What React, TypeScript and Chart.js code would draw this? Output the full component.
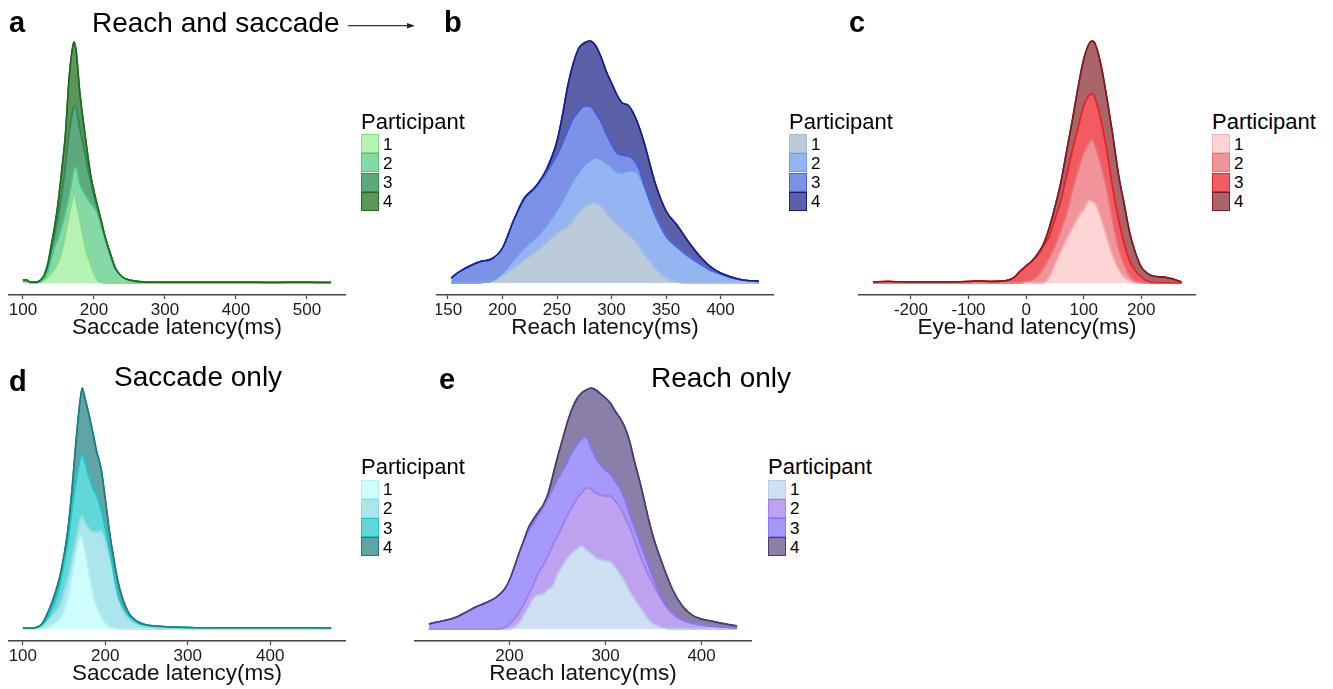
import React, { useEffect, useRef } from "react";
import { Chart, registerables } from "chart.js";

Chart.register(...registerables);

const FONT = '"Liberation Sans", Arial, Helvetica, sans-serif';

// ---------- Panel a: Reach and saccade, saccade latency ----------
const aX = [100, 105, 110, 120, 125, 130, 135, 140, 145, 150, 155, 160, 165, 170, 172, 175, 180, 185, 190, 195, 200, 205, 210, 215, 220, 225, 230, 240, 250, 270, 300, 350, 400, 450, 500, 534];
const aP1 = [1, 1, 0.3, 0.3, 1, 3, 6, 10, 15, 22, 33, 50, 68, 85, 90, 82, 65, 47, 30, 20, 10, 3, 1, 0, 0, 0, 0, 0, 0, 0, 0, 0, 0, 0, 0, 0];
const aP2 = [1, 1, 0.3, 0.3, 1, 2, 6, 15, 23, 24, 25, 22, 20, 23, 24, 34, 35, 45, 56, 60, 66, 67, 57, 46, 34, 23, 14, 6, 3, 1, 0.6, 0.6, 0.6, 0.5, 0.6, 0.4];
const aP3 = [1, 1, 0.4, 0.4, 1, 2, 5, 8, 12, 22, 32, 46, 62, 64, 63, 59, 55, 46, 34, 23, 12, 5, 4, 2, 2, 2, 1, 0, 0, 0, 0.2, 0.2, 0.2, 0.1, 0.2, 0.1];
const aP4 = [0, 0, 0, 0, 0, 1, 2, 5, 8, 15, 25, 32, 55, 64, 64, 57, 37, 24, 15, 7, 4, 2, 1, 0, 0, 0, 0, 0, 0, 0, 0, 0, 0, 0, 0, 0];
const aTicks = [100, 200, 300, 400, 500];

// ---------- Panel b: Reach and saccade, reach latency ----------
const bX = [153, 160, 170, 180, 190, 200, 210, 220, 230, 240, 250, 255, 260, 265, 270, 275, 280, 285, 290, 295, 300, 305, 310, 315, 320, 325, 330, 340, 350, 360, 370, 380, 390, 400, 410, 420, 435];
const bP1 = [0, 0, 0, 0.5, 2, 7, 15, 23, 31, 40, 50, 53, 57, 63, 70, 76, 79, 80, 77, 71, 64, 58, 53, 49, 44, 37, 29, 15, 5, 1, 0, 0, 0, 0, 0, 0, 0];
const bP2 = [0, 0, 0, 0, 0, 3, 8, 12, 14, 17, 23, 29, 36, 40, 40, 42, 43, 45, 47, 49, 52, 53, 57, 63, 68, 71, 67, 53, 42, 35, 27, 20, 13, 9, 5, 3, 1];
const bP3 = [5, 11, 17, 21, 22, 25, 39, 49, 50, 53, 55, 58, 60, 62, 62, 59, 55, 46, 38, 30, 23, 19, 18, 15, 12, 7, 2, 0, 0, 0, 0, 0, 0, 0, 0, 0, 0];
const bP4 = [0, 0, 0, 0, 0, 0, 0, 1, 1, 3, 14, 28, 45, 55, 63, 63, 65, 67, 65, 62, 61, 58, 52, 51, 46, 42, 42, 32, 25, 22, 15, 8, 4, 1, 1, 0, 1];
const bTicks = [150, 200, 250, 300, 350, 400];

// ---------- Panel c: eye-hand latency ----------
const cX = [-266, -240, -200, -150, -100, -80, -60, -40, -30, -20, -10, 0, 10, 20, 30, 40, 50, 60, 70, 80, 90, 100, 110, 115, 120, 130, 140, 150, 160, 170, 180, 190, 200, 210, 220, 240, 255, 270];
const cP1 = [0, 0, 0, 0, 0, 0, 0, 0, 0, 0, 0, 0, 0, 0, 0, 5, 18, 31, 43, 54, 65, 73, 82, 81, 79, 64, 45, 27, 14, 6, 2, 0, 0, 0, 0, 0, 0, 0];
const cP2 = [0, 0, 0, 0, 0, 0, 0, 0, 0, 0, 0, 2, 3, 7, 15, 20, 19, 21, 26, 38, 48, 57, 59, 62, 58, 54, 49, 37, 22, 13, 5, 2, 0.5, 0, 0, 0, 0, 0];
const cP3 = [1, 1.5, 1, 1, 1.5, 2, 1.5, 2, 3, 6, 12, 15, 19, 21, 22, 22, 27, 30, 38, 40, 42, 47, 47, 46, 47, 45, 39, 32, 29, 21, 15, 10, 5.5, 2, 0.5, 0.3, 0.2, 0];
const cP4 = [0, 0, 0, 0, 0, 0, 0, 0, 0, 0, 0, 0, 0, 1, 2, 8, 12, 18, 24, 30, 40, 47, 52, 53, 55, 55, 53, 54, 45, 40, 28, 18, 10, 8, 6.5, 5.7, 3.8, 1];
const cTicks = [-200, -100, 0, 100, 200];

// ---------- Panel d: Saccade only ----------
const dX = [100, 110, 118, 124, 130, 135, 140, 145, 150, 155, 160, 165, 170, 172, 175, 180, 185, 190, 195, 200, 205, 210, 215, 220, 225, 230, 240, 250, 260, 280, 300, 350, 400, 450, 474];
const dP1 = [0, 0, 0.5, 1, 2, 4, 7, 11, 19, 34, 57, 80, 93, 91, 80, 58, 35, 22, 12, 6, 2, 1, 0, 0, 0, 0, 0, 0, 0, 0, 0, 0, 0, 0, 0];
const dP2 = [0.5, 0.5, 0.5, 2, 7, 9, 11, 13, 19, 19, 16, 13, 18, 22, 28, 43, 62, 75, 86, 82, 71, 54, 34, 21, 14, 9, 4, 2, 1, 0.5, 0.3, 0.2, 0.2, 0.2, 0.2];
const dP3 = [0.5, 0.5, 1, 2, 2, 7, 12, 21, 28, 35, 50, 57, 61, 61, 60, 52, 44, 36, 21, 13, 7, 2, 1, 3, 3, 3, 2, 2, 2, 1.5, 1.2, 1, 1.1, 1, 0.8];
const dP4 = [0, 0, 0, 1, 5, 6, 8, 8, 8, 14, 20, 43, 60, 67, 64, 62, 55, 43, 41, 29, 18, 15, 14, 9, 5, 2, 1, 0, 0, 0, 0, 0, 0, 0, 0];
const dTicks = [100, 200, 300, 400];

// ---------- Panel e: Reach only ----------
const eX = [116, 125, 135, 145, 155, 165, 175, 185, 195, 200, 205, 210, 215, 220, 225, 230, 235, 240, 245, 250, 255, 260, 265, 270, 275, 280, 285, 290, 295, 300, 305, 310, 315, 320, 325, 330, 335, 340, 345, 350, 360, 370, 380, 390, 400, 410, 420, 437];
const eP1 = [0, 0, 0, 0, 0, 0, 0, 0, 0, 0, 2, 6, 14, 22, 31, 34, 35, 39, 43, 55, 63, 70, 76, 80, 83, 79, 75, 71, 69, 68, 67, 62, 55, 47, 38, 30, 23, 16, 9, 5, 1, 0, 0, 0, 0, 0, 0, 0];
const eP2 = [0, 0, 0, 0, 0, 0, 0, 0, 1.5, 5, 8, 11, 11, 13, 14, 22, 29, 34, 41, 38, 40, 43, 46, 50, 53, 62, 65, 65, 65, 65, 66, 66, 67, 65, 64, 59, 53, 48, 44, 39, 26, 15, 9, 6, 4, 3, 2, 1];
const eP3 = [5, 7, 9, 12, 17, 22, 26, 31, 38.5, 44, 52, 59, 63, 64, 61, 58, 58, 58, 56, 57, 55, 54, 55, 54, 54, 51, 41, 35, 30, 26, 22, 20, 19, 18, 13, 13, 13, 12, 10, 6, 1, 1, 0, 0, 0, 0, 0, 0];
const eP4 = [0, 0, 0, 0, 0, 0, 0, 0, 0, 0, 0, 0, 1, 3, 4, 3, 2, 4, 13, 22, 31, 39, 43, 46, 46, 47, 60, 68, 71, 72, 71, 70, 70, 72, 73, 66, 61, 54, 46, 41, 35, 23, 14, 8, 6, 5, 4, 2];
const eTicks = [200, 300, 400];

const participants = ["1", "2", "3", "4"];

const greenFill = ["#b6f2b2", "#84d9a6", "#5ea97c", "#5c9659"];
const greenLine = ["#86dc86", "#4cc482", "#2e8b57", "#1d6b1d"];
const blueFill = ["#bccbd9", "#95b5f2", "#7b92e6", "#5c60a8"];
const blueLine = ["#a6bde0", "#6c9cf0", "#3f5fe0", "#151f8c"];
const redFill = ["#fdd5d7", "#f09499", "#f05c60", "#a9656a"];
const redLine = ["#f6b5b8", "#e4737a", "#ee2222", "#7b1b22"];
const tealFill = ["#cefdfc", "#abe6ec", "#60d7d8", "#60a5a6"];
const tealLine = ["#b0f2f2", "#8edbe5", "#1cc6c6", "#1d7c7e"];
const purpleFill = ["#cee0f1", "#bfa2ef", "#a59afb", "#8b7ea9"];
const purpleLine = ["#b6cdeb", "#a27ee8", "#8474f7", "#4b3c70"];

const topLines = {
  id: "topLines",
  afterDatasetsDraw(chart: any) {
    const ctx = chart.ctx;
    for (let i = 0; i < chart.data.datasets.length; i++) {
      const meta = chart.getDatasetMeta(i);
      if (meta && meta.dataset) meta.dataset.draw(ctx, chart.chartArea);
    }
  },
};

type PanelProps = {
  left: number;
  top: number;
  xs: number[];
  series: number[][];
  fills: string[];
  lines: string[];
  min: number;
  max: number;
  ticks: number[];
  title: string;
};

function DensityPanel(p: PanelProps) {
  const ref = useRef<HTMLCanvasElement | null>(null);
  useEffect(() => {
    if (!ref.current) return;
    const chart = new Chart(ref.current, {
      type: "line",
      data: {
        datasets: p.series.map((vals, i) => ({
          label: participants[i],
          data: p.xs.map((x, j) => ({ x, y: vals[j] })),
          backgroundColor: p.fills[i],
          borderColor: p.lines[i],
          borderWidth: 1.5,
          pointRadius: 0,
          pointHoverRadius: 0,
          fill: i === 0 ? "origin" : "-1",
          cubicInterpolationMode: "monotone",
        })),
      },
      options: {
        animation: false,
        responsive: false,
        events: [],
        layout: { padding: 0 },
        plugins: { legend: { display: false }, tooltip: { enabled: false } },
        scales: {
          x: {
            type: "linear",
            min: p.min,
            max: p.max,
            grid: {
              display: true,
              drawOnChartArea: false,
              drawTicks: true,
              tickLength: 4,
              tickColor: "#444",
              tickWidth: 1.2,
            },
            border: { display: true, color: "#444", width: 1.4 },
            ticks: {
              font: { family: FONT, size: 17 },
              color: "#1a1a1a",
              padding: 1,
              maxRotation: 0,
              autoSkip: false,
              callback: (v: any) => String(v),
            },
            title: {
              display: true,
              text: p.title,
              font: { family: FONT, size: 22.5 },
              color: "#111",
              padding: { top: 0, bottom: 0 },
            },
            afterBuildTicks: (s: any) => {
              s.ticks = p.ticks.map((v) => ({ value: v }));
            },
            afterFit: (s: any) => {
              s.height = 46;
              s.paddingLeft = 0;
              s.paddingRight = 0;
            },
          } as any,
          y: { display: false, stacked: true, min: -12, max: 253 },
        },
      },
      plugins: [topLines],
    } as any);
    return () => chart.destroy();
  }, []);
  return (
    <canvas
      ref={ref}
      width={338}
      height={311}
      style={{ position: "absolute", left: p.left, top: p.top, width: 338, height: 311 }}
    />
  );
}

function Txt(props: { x: number; baseline: number; size: number; bold?: boolean; children: React.ReactNode }) {
  return (
    <div
      style={{
        position: "absolute",
        left: props.x,
        top: props.baseline - 0.8465 * props.size,
        fontSize: props.size,
        lineHeight: `${props.size}px`,
        fontWeight: props.bold ? 700 : 400,
        fontFamily: FONT,
        color: "#000",
        whiteSpace: "nowrap",
      }}
    >
      {props.children}
    </div>
  );
}

function Legend(props: { x: number; titleBaseline: number; swTop: number; fills: string[]; lines: string[] }) {
  const h = 19.1;
  return (
    <>
      <Txt x={props.x} baseline={props.titleBaseline} size={22}>
        Participant
      </Txt>
      {participants.map((lab, i) => (
        <React.Fragment key={lab}>
          <div
            style={{
              position: "absolute",
              left: props.x,
              top: props.swTop + i * h,
              width: 18,
              height: h,
              boxSizing: "border-box",
              background: props.fills[i],
              border: `1px solid ${props.lines[i]}`,
            }}
          />
          <Txt x={props.x + 22} baseline={props.swTop + i * h + h / 2 + 6.2} size={17}>
            {lab}
          </Txt>
        </React.Fragment>
      ))}
    </>
  );
}

export default function App() {
  return (
    <div
      style={{
        position: "absolute",
        left: 0,
        top: 0,
        width: 1333,
        height: 689,
        background: "#fff",
        overflow: "hidden",
        fontFamily: FONT,
      }}
    >
      <DensityPanel left={8} top={30} xs={aX} series={[aP1, aP2, aP3, aP4]} fills={greenFill} lines={greenLine} min={79} max={555} ticks={aTicks} title="Saccade latency(ms)" />
      <DensityPanel left={436} top={30} xs={bX} series={[bP1, bP2, bP3, bP4]} fills={blueFill} lines={blueLine} min={139} max={449} ticks={bTicks} title="Reach latency(ms)" />
      <DensityPanel left={858} top={30} xs={cX} series={[cP1, cP2, cP3, cP4]} fills={redFill} lines={redLine} min={-292} max={295} ticks={cTicks} title="Eye-hand latency(ms)" />
      <DensityPanel left={8} top={376} xs={dX} series={[dP1, dP2, dP3, dP4]} fills={tealFill} lines={tealLine} min={82} max={492} ticks={dTicks} title="Saccade latency(ms)" />
      <DensityPanel left={414} top={376} xs={eX} series={[eP1, eP2, eP3, eP4]} fills={purpleFill} lines={purpleLine} min={100.5} max={452.5} ticks={eTicks} title="Reach latency(ms)" />

      <Legend x={361} titleBaseline={130} swTop={134.3} fills={greenFill} lines={greenLine} />
      <Legend x={789} titleBaseline={130} swTop={134.3} fills={blueFill} lines={blueLine} />
      <Legend x={1212} titleBaseline={130} swTop={134.3} fills={redFill} lines={redLine} />
      <Legend x={361} titleBaseline={475} swTop={480} fills={tealFill} lines={tealLine} />
      <Legend x={768} titleBaseline={475} swTop={480} fills={purpleFill} lines={purpleLine} />

      <Txt x={9} baseline={33} size={29} bold>a</Txt>
      <Txt x={444} baseline={33} size={29} bold>b</Txt>
      <Txt x={849} baseline={33} size={29} bold>c</Txt>
      <Txt x={9} baseline={392} size={29} bold>d</Txt>
      <Txt x={439} baseline={390} size={29} bold>e</Txt>

      <Txt x={92} baseline={33} size={28}>Reach and saccade</Txt>
      <Txt x={114} baseline={387} size={28}>Saccade only</Txt>
      <Txt x={651} baseline={388} size={28}>Reach only</Txt>

      <svg style={{ position: "absolute", left: 340, top: 16, width: 80, height: 20 }} width={80} height={20}>
        <line x1={8} y1={9.7} x2={68} y2={9.7} stroke="#333" strokeWidth={1.2} />
        <polygon points="67,7 75,9.7 67,12.4" fill="#222" />
      </svg>
    </div>
  );
}
